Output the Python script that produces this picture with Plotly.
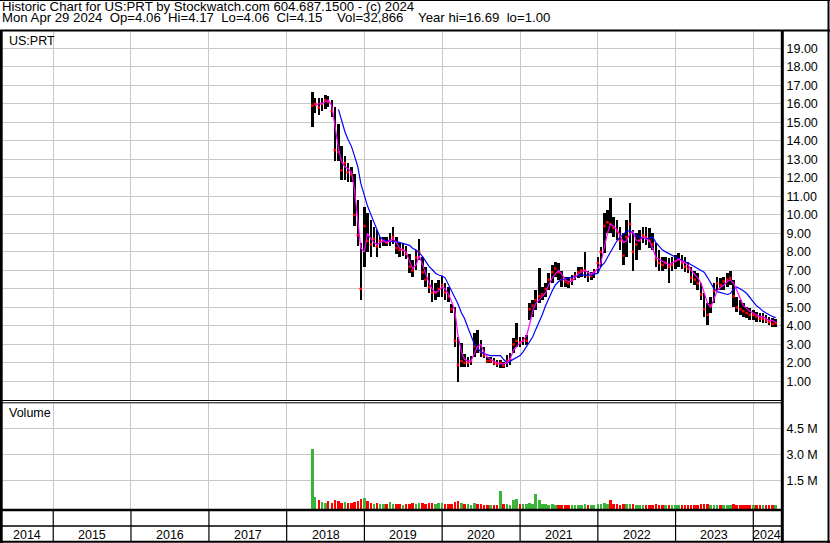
import pandas as pd
import plotly.graph_objects as go

W, H = 830, 543

# ---------------- data (semi-monthly periods) ----------------
period_start = "2018-05-01"
n_periods = 144
dates = pd.date_range(period_start, periods=n_periods, freq="SMS")

high = [16.66, 16.3, 16.3, 16.3, 16.5, 16.4, 16.2, 15.85, 14.9, 13.7,
        13.2, 12.8, 12.6, 12.2, 10.8, 8.5, 10.4, 10.1, 9.7, 9.36,
        9.2, 8.8, 8.8, 8.8, 9.0, 9.36, 8.8, 8.5, 8.5, 8.3,
        7.9, 7.56, 8.1, 8.68, 7.74, 7.2, 6.84, 6.48, 6.3, 6.48,
        6.7, 6.3, 6.1, 5.2, 5.04, 3.42, 3.06, 2.5, 2.34, 2.4,
        3.6, 3.78, 3.24, 2.88, 2.34, 2.34, 2.25, 2.16, 2.16, 2.07,
        2.43, 2.52, 3.33, 4.14, 3.42, 3.42, 3.5, 5.22, 5.4, 5.94,
        7.12, 6.12, 6.3, 6.84, 7.3, 7.47, 7.38, 6.98, 6.66, 6.66,
        6.75, 6.93, 7.2, 7.2, 8.0, 6.98, 6.93, 7.1, 7.74, 8.28,
        10.08, 10.26, 10.9, 9.9, 9.72, 9.36, 9.0, 9.72, 10.62, 9.18,
        9.0, 9.18, 9.36, 9.36, 9.27, 9.0, 8.46, 8.1, 7.74, 7.74,
        7.65, 7.74, 7.83, 7.92, 7.83, 7.74, 7.47, 7.2, 6.98, 6.84,
        6.3, 5.76, 5.22, 5.58, 6.3, 6.66, 6.57, 6.66, 6.84, 6.98,
        6.48, 5.58, 5.4, 5.22, 5.04, 4.95, 4.86, 4.77, 4.68, 4.68,
        4.59, 4.5, 4.41, 4.35]

low = [14.77, 15.5, 15.4, 15.6, 15.7, 15.8, 15.3, 12.9, 12.9, 11.9,
       11.9, 11.8, 11.8, 9.4, 8.3, 5.4, 7.2, 8.0, 7.7, 8.28,
       7.74, 8.2, 8.3, 8.3, 8.3, 8.4, 7.9, 7.74, 7.8, 7.6,
       6.84, 6.66, 7.0, 7.56, 6.48, 6.1, 5.76, 5.3, 5.4, 5.58,
       5.58, 5.4, 5.3, 4.68, 2.88, 0.99, 1.8, 1.8, 1.8, 1.9,
       2.34, 2.52, 2.34, 2.25, 1.98, 1.98, 1.9, 1.8, 1.71, 1.71,
       1.8, 1.9, 2.52, 2.88, 2.88, 2.97, 2.97, 4.32, 4.5, 4.86,
       5.22, 5.4, 5.58, 5.94, 6.3, 6.66, 6.48, 6.12, 6.12, 6.03,
       6.21, 6.48, 6.57, 6.66, 6.57, 6.39, 6.48, 6.57, 6.84, 7.2,
       7.92, 9.0, 9.0, 8.82, 8.64, 8.1, 7.29, 7.74, 8.46, 6.98,
       7.56, 8.1, 8.46, 8.37, 8.19, 8.1, 7.2, 6.98, 6.98, 7.1,
       6.3, 6.98, 7.1, 7.2, 7.1, 6.93, 6.84, 6.3, 6.21, 5.94,
       5.4, 4.5, 4.05, 4.68, 5.22, 5.94, 5.94, 5.94, 6.12, 6.21,
       5.04, 4.77, 4.59, 4.5, 4.41, 4.32, 4.32, 4.23, 4.23, 4.14,
       4.14, 4.05, 3.96, 3.96]

close = [15.9, 16.0, 15.8, 16.0, 16.2, 16.1, 15.6, 13.5, 13.4, 12.4,
         12.8, 12.3, 12.2, 10.0, 8.9, 6.0, 9.4, 8.6, 8.4, 8.7,
         8.3, 8.6, 8.6, 8.5, 8.6, 8.8, 8.2, 8.1, 8.1, 7.9,
         7.2, 7.0, 7.7, 8.0, 6.9, 6.5, 6.1, 5.8, 5.8, 6.0,
         6.2, 5.8, 5.6, 4.9, 3.2, 1.9, 2.1, 2.0, 2.0, 2.1,
         2.9, 2.8, 2.6, 2.4, 2.1, 2.1, 2.0, 1.95, 2.0, 1.85,
         2.1, 2.2, 3.0, 3.2, 3.1, 3.2, 3.2, 4.9, 5.1, 5.4,
         5.6, 5.7, 6.0, 6.5, 6.9, 7.1, 6.9, 6.5, 6.4, 6.3,
         6.5, 6.7, 6.9, 7.0, 7.0, 6.7, 6.7, 6.9, 7.4, 8.0,
         9.4, 9.6, 9.5, 9.3, 9.1, 8.6, 7.8, 8.8, 9.5, 8.0,
         8.4, 8.6, 8.9, 8.8, 8.6, 8.4, 7.6, 7.4, 7.3, 7.4,
         7.2, 7.3, 7.5, 7.6, 7.4, 7.2, 7.1, 6.6, 6.5, 6.3,
         5.7, 4.9, 4.6, 5.1, 5.9, 6.3, 6.2, 6.4, 6.5, 6.6,
         5.6, 5.0, 4.9, 4.8, 4.7, 4.6, 4.6, 4.5, 4.4, 4.4,
         4.3, 4.2, 4.1, 4.15]

ma_short = [None, 15.9, 16.0, 16.0, 16.1, 16.2, 15.9, 14.8, 13.6, 12.9,
            12.6, 12.5, 12.3, 11.4, 9.8, 8.2, 8.0, 9.0, 8.7, 8.5,
            8.4, 8.5, 8.6, 8.5, 8.6, 8.7, 8.5, 8.2, 8.1, 8.0,
            7.5, 7.1, 7.3, 7.8, 7.3, 6.8, 6.3, 6.0, 5.8, 5.9,
            6.1, 6.0, 5.7, 5.3, 4.8, 3.5, 2.6, 2.2, 2.1, 2.1,
            2.5, 2.9, 3.0, 2.6, 2.3, 2.2, 2.1, 2.0, 1.95, 1.95,
            2.0, 2.2, 2.7, 2.9, 3.1, 3.2, 3.5, 4.1, 4.8, 5.2,
            5.4, 5.6, 5.8, 6.2, 6.6, 6.8, 7.0, 6.8, 6.5, 6.4,
            6.4, 6.6, 6.8, 6.9, 7.0, 6.9, 6.8, 6.9, 7.1, 7.4,
            8.3, 9.0, 9.5, 9.4, 9.2, 8.9, 8.5, 8.6, 9.0, 9.1,
            8.6, 8.6, 8.8, 8.7, 8.6, 8.2, 7.7, 7.6, 7.5, 7.4,
            7.3, 7.4, 7.5, 7.6, 7.5, 7.4, 7.3, 7.0, 6.8, 6.6,
            6.3, 5.8, 5.2, 5.0, 5.5, 5.9, 6.1, 6.2, 6.4, 6.5,
            6.3, 5.9, 5.4, 5.1, 4.95, 4.8, 4.7, 4.6, 4.5, 4.5,
            4.4, 4.3, 4.3, 4.2]

ma_long = [None, None, None, None, None, None, None, None, 15.7, 15.1,
           14.5, 14.1, 13.7, 13.2, 12.6, 11.7, 11.0, 10.5, 10.0, 9.6,
           9.2, 8.8, 8.65, 8.6, 8.6, 8.55, 8.55, 8.5, 8.45, 8.4,
           8.35, 8.2, 8.1, 7.95, 7.75, 7.5, 7.2, 7.05, 6.85, 6.75,
           6.7, 6.6, 6.2, 5.9, 5.6, 5.2, 4.7, 4.4, 3.9, 3.5,
           3.0, 2.8, 2.6, 2.5, 2.45, 2.4, 2.4, 2.4, 2.4, 2.2,
           2.0, 2.1, 2.2, 2.3, 2.4, 2.6, 2.9, 3.2, 3.4, 3.8,
           4.2, 4.6, 5.1, 5.5, 5.9, 6.2, 6.4, 6.5, 6.55, 6.6,
           6.65, 6.7, 6.75, 6.75, 6.75, 6.75, 6.75, 6.8, 6.85, 7.2,
           7.4, 7.7, 8.0, 8.3, 8.6, 8.8, 8.95, 9.1, 9.15, 9.0,
           8.9, 8.8, 8.75, 8.7, 8.75, 8.8, 8.5, 8.3, 8.1, 8.0,
           7.9, 7.8, 7.7, 7.6, 7.5, 7.45, 7.4, 7.3, 7.2, 7.1,
           7.0, 6.9, 6.6, 6.3, 6.0, 5.85, 5.8, 5.75, 5.7, 5.75,
           6.0, 6.1, 6.0, 5.9, 5.75, 5.55, 5.35, 5.1, 4.95, 4.8,
           4.7, 4.6, 4.5, 4.45]

volume = [3300000, 550000, 350000, 280000, 220000, 300000, 200000, 400000, 300000, 200000,
          250000, 180000, 200000, 250000, 300000, 450000, 500000, 300000, 200000, 150000,
          180000, 120000, 150000, 120000, 250000, 150000, 120000, 150000, 100000, 120000,
          150000, 200000, 150000, 220000, 180000, 150000, 200000, 180000, 150000, 200000,
          180000, 150000, 120000, 150000, 250000, 300000, 200000, 150000, 120000, 100000,
          200000, 150000, 120000, 100000, 80000, 100000, 80000, 100000, 900000, 120000,
          150000, 100000, 350000, 450000, 150000, 120000, 150000, 200000, 150000, 750000,
          350000, 150000, 120000, 100000, 120000, 100000, 80000, 100000, 90000, 80000,
          100000, 80000, 90000, 100000, 120000, 80000, 90000, 100000, 120000, 150000,
          180000, 150000, 350000, 150000, 120000, 100000, 150000, 120000, 130000, 120000,
          100000, 90000, 100000, 80000, 90000, 100000, 120000, 90000, 100000, 80000,
          90000, 100000, 90000, 110000, 100000, 90000, 100000, 110000, 90000, 100000,
          120000, 150000, 130000, 100000, 110000, 90000, 100000, 80000, 90000, 100000,
          120000, 100000, 90000, 80000, 90000, 80000, 90000, 80000, 70000, 80000,
          70000, 80000, 70000, 80000]

price_ticks = list(range(1, 20))
price_tick_text = [f"{v:.2f}" for v in price_ticks]
vol_ticks = [1500000, 3000000, 4500000]
vol_tick_text = ["1.5 M", "3.0 M", "4.5 M"]
years = list(range(2014, 2025))

NB = "\u00a0"
header1 = "Historic Chart for US:PRT by Stockwatch.com 604.687.1500 - (c) 2024"
header2 = (f"Mon Apr 29 2024 {NB}Op=4.06 {NB}Hi=4.17 {NB}Lo=4.06 {NB}Cl=4.15 {NB} {NB}"
           f"Vol=32,866 {NB} {NB}Year hi=16.69 {NB}lo=1.00")
symbol_label = "US:PRT"
volume_label = "Volume"

# ---------------- layout geometry (pixels) ----------------
PLOT_L, PLOT_R = 0, 781
PRICE_T, PRICE_B = 31, 400
VOL_T, VOL_B = 403, 509.5
X_START, X_END = "2014-04-26", "2024-05-10"
PRICE_MAX = 19.93
VOL_MIN, VOL_MAX = -170000, 5960000
FONT = "Liberation Sans, Arial, sans-serif"
GRID = "#c8c8c8"


def fx(px):
    return px / W


def fy(py):
    return 1 - py / H


day_ms = 86400000
green, red = "#3cb43c", "#ff0000"
vol_colors = [green if i == 0 or close[i] >= close[i - 1] else red for i in range(n_periods)]

fig = go.Figure()

# volume
fig.add_trace(go.Bar(
    x=dates, y=[v - VOL_MIN for v in volume], base=VOL_MIN,
    width=12 * day_ms, marker=dict(color=vol_colors, line=dict(width=0)),
    xaxis="x", yaxis="y2", hoverinfo="skip"))

# price hi-lo bars
fig.add_trace(go.Bar(
    x=dates, y=[h - l for h, l in zip(high, low)], base=low,
    width=12 * day_ms, marker=dict(color="#000000", line=dict(width=0)),
    xaxis="x", yaxis="y", hoverinfo="skip"))

# close ticks
fig.add_trace(go.Scatter(
    x=dates, y=close, mode="markers",
    marker=dict(symbol="square", size=2.5, color=red, line=dict(width=0)),
    xaxis="x", yaxis="y", hoverinfo="skip"))

# moving averages
fig.add_trace(go.Scatter(x=dates, y=ma_long, mode="lines",
                         line=dict(color="#0000ff", width=1.2), connectgaps=False,
                         xaxis="x", yaxis="y", hoverinfo="skip"))
fig.add_trace(go.Scatter(x=dates, y=ma_short, mode="lines",
                         line=dict(color="#ff00ff", width=1.2), connectgaps=False,
                         xaxis="x", yaxis="y", hoverinfo="skip"))

year_dates = [pd.Timestamp(f"{y}-01-01") for y in years[1:]]

fig.update_layout(
    width=W, height=H, autosize=False,
    margin=dict(l=0, r=0, t=0, b=0, pad=0),
    paper_bgcolor="white", plot_bgcolor="white",
    showlegend=False, bargap=0, barmode="overlay",
    font=dict(family=FONT, size=12.5, color="#000000"),
    xaxis=dict(domain=[fx(PLOT_L), fx(PLOT_R)], range=[X_START, X_END], type="date",
               anchor="y2", tickvals=year_dates, showticklabels=False, ticks="",
               showgrid=True, gridcolor=GRID, gridwidth=1, showline=False, zeroline=False),
    yaxis=dict(domain=[fy(PRICE_B), fy(PRICE_T)], range=[0, PRICE_MAX], anchor="x", side="right",
               tickvals=price_ticks, ticktext=price_tick_text, ticks="outside", ticklen=2,
               tickcolor="rgba(0,0,0,0)", showgrid=True, gridcolor=GRID, gridwidth=1,
               showline=False, zeroline=False, tickfont=dict(size=12.5, color="#000000")),
    yaxis2=dict(domain=[fy(VOL_B), fy(VOL_T)], range=[VOL_MIN, VOL_MAX], anchor="x", side="right",
                tickvals=vol_ticks, ticktext=vol_tick_text, ticks="outside", ticklen=2,
                tickcolor="rgba(0,0,0,0)", showgrid=True, gridcolor=GRID, gridwidth=1,
                showline=False, zeroline=False, tickfont=dict(size=12.5, color="#000000")),
)

shapes = []


def hline(y, x0, x1, w):
    shapes.append(dict(type="line", xref="paper", yref="paper", x0=fx(x0), x1=fx(x1),
                       y0=fy(y), y1=fy(y), line=dict(color="black", width=w)))


def vline(x, y0, y1, w):
    shapes.append(dict(type="line", xref="paper", yref="paper", x0=fx(x), x1=fx(x),
                       y0=fy(y0), y1=fy(y1), line=dict(color="black", width=w)))


# header box
hline(0.5, 0, 830, 1)
hline(30.5, 0, 830, 2)
vline(828.5, 0, 543, 2)
# panel borders
vline(1.2, 31, 543, 3)
vline(782.3, 31, 543, 3)
hline(400.5, 0, 782, 1)
hline(402.8, 0, 782, 1)
hline(510, 0, 782, 2.5)
hline(526, 0, 782, 1.5)
hline(541.8, 0, 830, 2)

# year separators in the bottom rows
for d in year_dates:
    shapes.append(dict(type="line", xref="x", yref="paper", x0=d, x1=d,
                       y0=fy(510), y1=fy(542), line=dict(color="black", width=1.2)))

annotations = [
    dict(text=header1, xref="paper", yref="paper", x=fx(0), y=fy(6.5), xanchor="left",
         yanchor="middle", showarrow=False, font=dict(size=13.2)),
    dict(text=header2, xref="paper", yref="paper", x=fx(0), y=fy(17), xanchor="left",
         yanchor="middle", showarrow=False, font=dict(size=13.2)),
    dict(text=symbol_label, xref="paper", yref="paper", x=fx(7), y=fy(41.5), xanchor="left",
         yanchor="middle", showarrow=False),
    dict(text=volume_label, xref="paper", yref="paper", x=fx(7), y=fy(413), xanchor="left",
         yanchor="middle", showarrow=False),
]

x0_ts, x1_ts = pd.Timestamp(X_START), pd.Timestamp(X_END)
for y in years:
    a = max(pd.Timestamp(f"{y}-01-01"), x0_ts)
    b = min(pd.Timestamp(f"{y + 1}-01-01"), x1_ts)
    mid = a + (b - a) / 2
    annotations.append(dict(text=str(y), xref="x", yref="paper", x=mid, y=fy(534.5),
                            xanchor="center", yanchor="middle", showarrow=False))

fig.update_layout(shapes=shapes, annotations=annotations)
fig.write_html("out.html", config={"displayModeBar": False},
               post_script="document.body.style.margin='0px';document.body.style.padding='0px';")
